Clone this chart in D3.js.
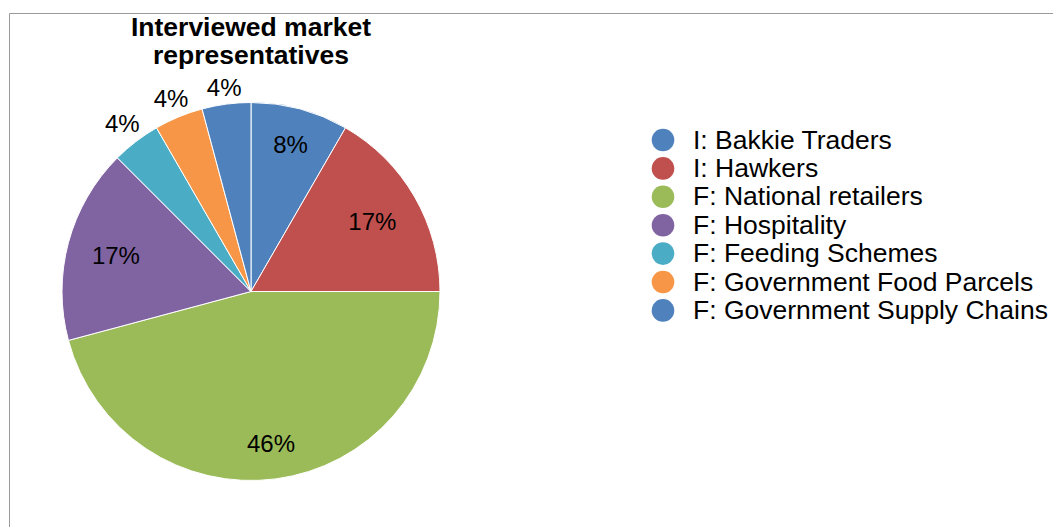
<!DOCTYPE html>
<html>
<head>
<meta charset="utf-8">
<script src="https://cdn.jsdelivr.net/npm/d3@7"></script>
<style>
  html, body { margin: 0; padding: 0; background: #fff; }
  svg { display: block; font-family: "Liberation Sans", Arial, sans-serif; }
</style>
</head>
<body>
<svg id="chart" width="1054" height="527"></svg>
<script>
// Interviewed market representatives by type (counts)
const categories = [
  "I: Bakkie Traders",
  "I: Hawkers",
  "F: National retailers",
  "F: Hospitality",
  "F: Feeding Schemes",
  "F: Government Food Parcels",
  "F: Government Supply Chains"
];
const counts = [2, 4, 11, 4, 1, 1, 1];
const colors = ["#4F81BD", "#C0504D", "#9BBB59", "#8064A2", "#4BACC6", "#F79646", "#4F81BD"];
// Slices whose labels sit outside the pie
const outsideLabels = [false, false, false, false, true, true, true];
const titleLines = ["Interviewed market", "representatives"];

const svg = d3.select("#chart");

// Chart frame (top and left edges)
svg.append("path")
  .attr("d", "M9.5,527 V13.5 H1053")
  .attr("fill", "none")
  .attr("stroke", "#9a9a9a")
  .attr("stroke-width", 1);

// Title
const title = svg.append("text")
  .attr("text-anchor", "middle")
  .attr("font-weight", "bold")
  .attr("font-size", 26.5)
  .attr("fill", "#000");
titleLines.forEach((t, i) => {
  title.append("tspan").attr("x", 251).attr("y", 36 + i * 28).text(t);
});

// Pie
const cx = 251, cy = 291.5, R = 189;
const total = d3.sum(counts);
const pie = d3.pie().sort(null).value(d => d)(counts);
const arc = d3.arc().innerRadius(0).outerRadius(R);
const g = svg.append("g").attr("transform", `translate(${cx},${cy})`);

g.selectAll("path.slice")
  .data(pie)
  .join("path")
  .attr("class", "slice")
  .attr("d", arc)
  .attr("fill", (d, i) => colors[i])
  .attr("stroke", "#fff")
  .attr("stroke-width", 1);

// Data labels: inside labels keep their box edge a fixed distance from the centre,
// outside labels keep a small gap beyond the rim
const fmt = d => Math.round(d / total * 100) + "%";
const fontSize = 24;
const capHalf = fontSize * 0.716 / 2;

pie.forEach((d, i) => {
  const label = fmt(d.data);
  const a = (d.startAngle + d.endAngle) / 2;
  const halfW = label.length * fontSize * 0.33;
  const proj = Math.abs(Math.sin(a)) * halfW + Math.abs(Math.cos(a)) * capHalf;
  const dist = outsideLabels[i] ? R + 6 + proj : 165 - proj;
  const x = Math.sin(a) * dist;
  const y = -Math.cos(a) * dist;
  g.append("text")
    .attr("x", x)
    .attr("y", y + capHalf)
    .attr("text-anchor", "middle")
    .attr("font-size", fontSize)
    .attr("fill", "#000")
    .text(label);
});

// Legend
const legend = svg.append("g").attr("transform", "translate(663,140)");
const rowH = 28.4;
categories.forEach((c, i) => {
  const row = legend.append("g").attr("transform", `translate(0,${i * rowH})`);
  row.append("circle").attr("r", 11.3).attr("fill", colors[i]);
  row.append("text")
    .attr("x", 30)
    .attr("y", 8.5)
    .attr("font-size", 26.5)
    .attr("fill", "#000")
    .text(c);
});
</script>
</body>
</html>
